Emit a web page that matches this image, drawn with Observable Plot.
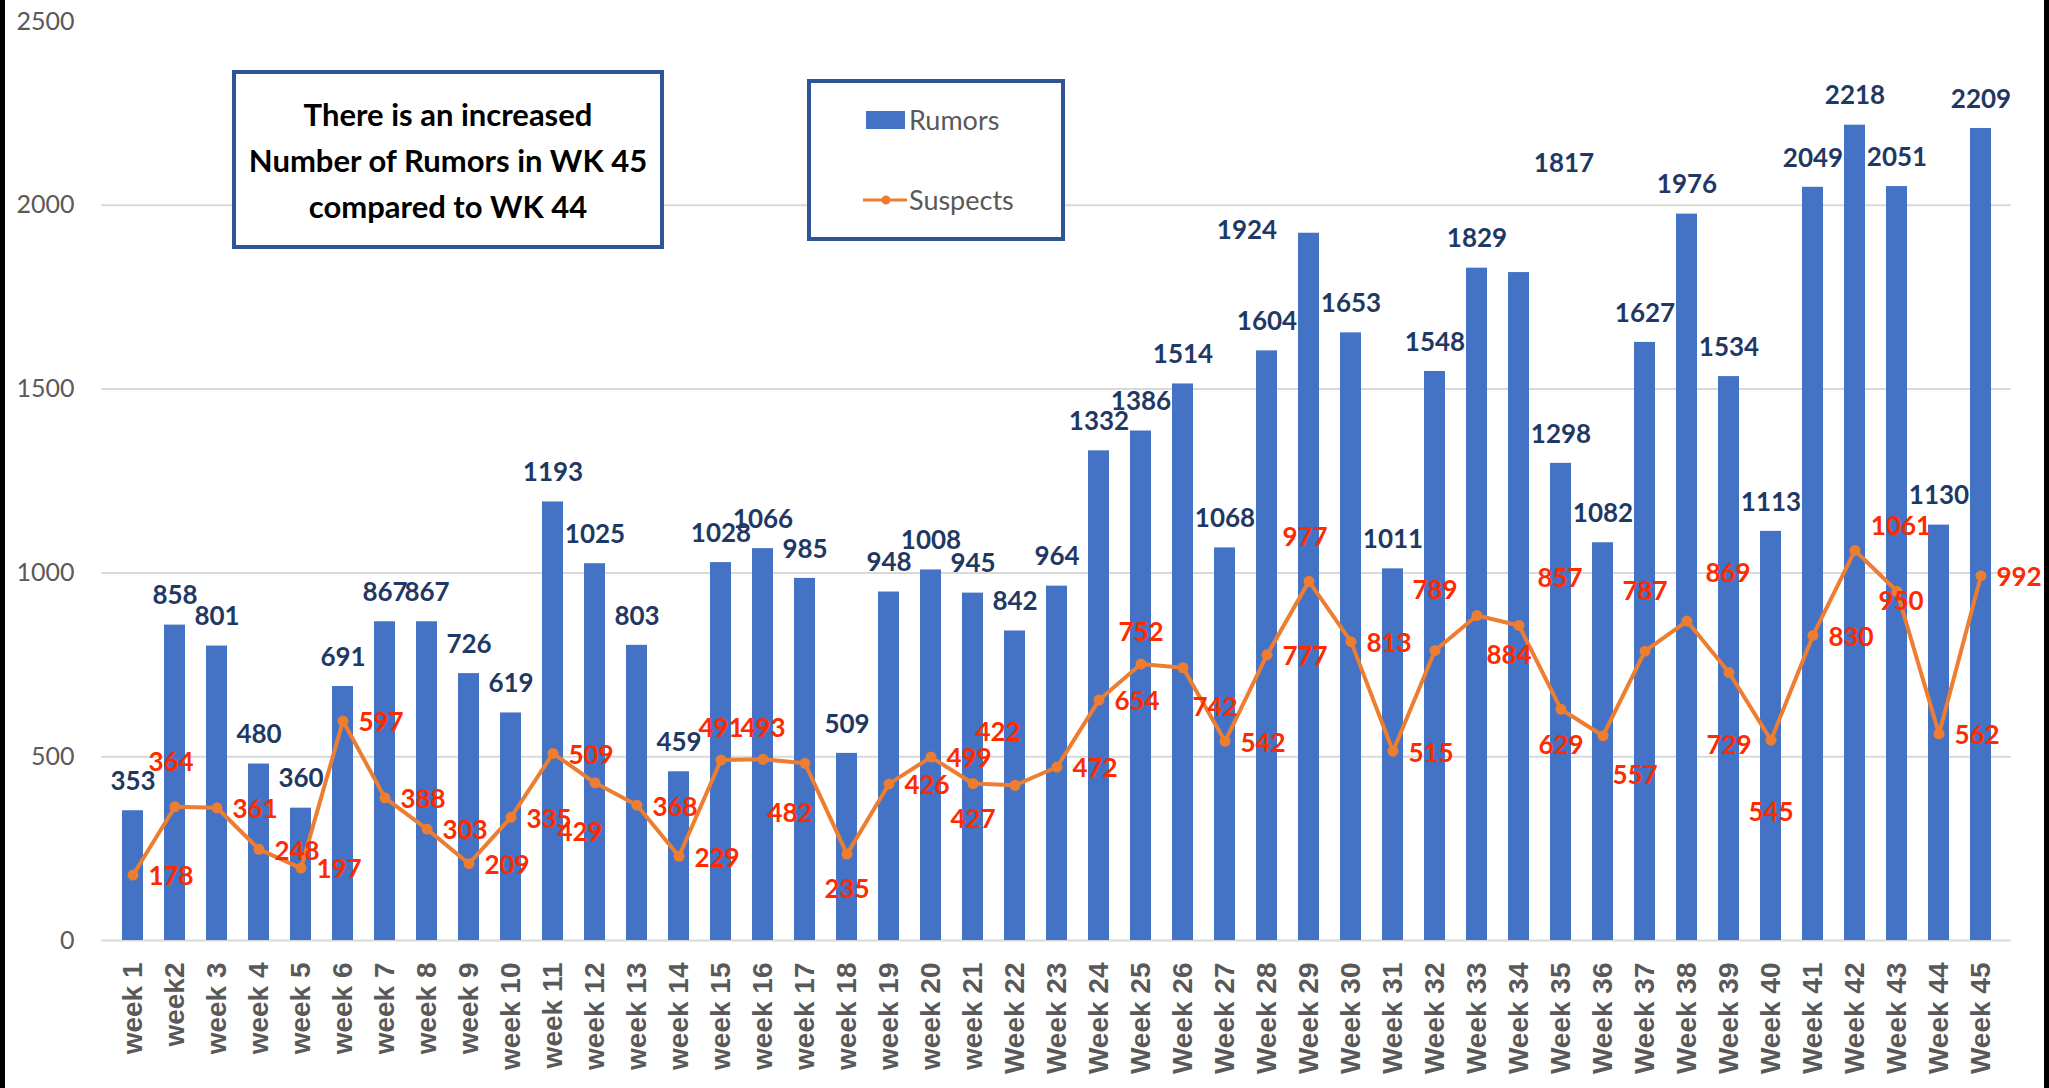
<!DOCTYPE html>
<html>
<head>
<meta charset="utf-8">
<script src="https://cdn.jsdelivr.net/npm/d3@7"></script>
<script src="https://cdn.jsdelivr.net/npm/@observablehq/plot@0.6"></script>
<style>
  html, body { margin: 0; padding: 0; background: #fff; }
  #wrap { position: relative; width: 2049px; height: 1088px; overflow: hidden; background: #fff; }
  #chart { position: absolute; left: 0; top: 0; }
  .edge { position: absolute; top: 0; width: 5px; height: 1088px; background: #000; }
  .note {
    position: absolute; left: 232px; top: 70px; width: 432px; height: 179px;
    box-sizing: border-box; border: 4px solid #2f5597; background: #fff;
    display: flex; align-items: center; justify-content: center; text-align: center;
    font-family: Lato, sans-serif; font-weight: bold; font-size: 31px; line-height: 46px; color: #000;
  }
  .legend {
    position: absolute; left: 807px; top: 79px; width: 258px; height: 162px;
    box-sizing: border-box; border: 4px solid #2f5597; background: #fff;
    font-family: Lato, sans-serif; font-size: 27px; color: #595959;
  }
  .legend .item { position: absolute; left: 0; height: 30px; display: flex; align-items: center; }
  .legend .label { position: absolute; left: 98px; white-space: nowrap; }
</style>
</head>
<body>
<div id="wrap">
  <div id="chart"></div>
  <div class="note"><div>There is an increased<br>Number of Rumors in WK 45<br>compared to WK 44</div></div>
  <div class="legend" id="legend"></div>
  <div class="edge" style="left:0"></div>
  <div class="edge" style="left:2044px"></div>
</div>
<script>
const weeks = [
  "week 1","week2","week 3","week 4","week 5","week 6","week 7","week 8","week 9","week 10",
  "week 11","week 12","week 13","week 14","week 15","week 16","week 17","week 18","week 19","week 20",
  "week 21","Week 22","Week 23","Week 24","Week 25","Week 26","Week 27","Week 28","Week 29","Week 30",
  "Week 31","Week 32","Week 33","Week 34","Week 35","Week 36","Week 37","Week 38","Week 39","Week 40",
  "Week 41","Week 42","Week 43","Week 44","Week 45"
];
const rumors = [
  353, 858, 801, 480, 360, 691, 867, 867, 726, 619,
  1193, 1025, 803, 459, 1028, 1066, 985, 509, 948, 1008,
  945, 842, 964, 1332, 1386, 1514, 1068, 1604, 1924, 1653,
  1011, 1548, 1829, 1817, 1298, 1082, 1627, 1976, 1534, 1113,
  2049, 2218, 2051, 1130, 2209
];
const suspects = [
  178, 364, 361, 248, 197, 597, 388, 303, 209, 335,
  509, 429, 368, 229, 491, 493, 482, 235, 426, 499,
  427, 422, 472, 654, 752, 742, 542, 777, 977, 813,
  515, 789, 884, 857, 629, 557, 787, 869, 729, 545,
  830, 1061, 950, 562, 992
];
const yTicks = [0, 500, 1000, 1500, 2000, 2500];
const gridValues = [0, 500, 1000, 1500, 2000];

// label placement codes (style only)
const rumorLabelPlace = [
  "n","n","n","n","n","n","n","n","n","n",
  "n","n","n","n","n","n","n","n","n","n",
  "n","n","n","n","n","n","n","n","l","n",
  "n","n","n","u","n","n","n","n","n","n",
  "n","n","n","n","n"
];
const suspectLabelPlace = [
  "r","am","r","r","r","r","r","r","r","r",
  "r","bl","r","r","a","a","bl","b","r","r",
  "b","al","r","r","a","br","r","r","am","r",
  "r","aa","br","ar","b","br","aa","ar","bb","bb",
  "r","rr","c","r","r"
];
const rumorOffsets = { n: [0, -29], l: [-62, -3], u: [45, -109] };
const suspectOffsets = {
  r: [38, 2], a: [0, -31], am: [-4, -44], aa: [0, -60], b: [0, 36], bb: [0, 73],
  bl: [-15, 50], al: [-17, -53], br: [32, 40], ar: [41, -47], rr: [46, -24], c: [4, 10]
};

const data = weeks.map((w, i) => ({
  week: w, rumors: rumors[i], suspects: suspects[i],
  rp: rumorLabelPlace[i], sp: suspectLabelPlace[i]
}));

const BLUE = "#4472c4", ORANGE = "#ed7d31", NAVY = "#1f3864", RED = "#ff2a00", GRAY = "#595959";

const rumorLabelMarks = Object.entries(rumorOffsets).map(([code, [dx, dy]]) =>
  Plot.text(data.filter(d => d.rp === code), {
    x: "week", y: "rumors", text: d => String(d.rumors), dx, dy,
    fill: NAVY, fontSize: 26, fontWeight: "bold", fontFamily: "Lato",
    textAnchor: "middle", lineAnchor: "middle"
  })
);
const suspectLabelMarks = Object.entries(suspectOffsets).map(([code, [dx, dy]]) =>
  Plot.text(data.filter(d => d.sp === code), {
    x: "week", y: "suspects", text: d => String(d.suspects), dx, dy,
    fill: RED, fontSize: 26, fontWeight: "bold", fontFamily: "Lato",
    textAnchor: "middle", lineAnchor: "middle"
  })
);

const chart = Plot.plot({
  width: 2049,
  height: 1088,
  marginLeft: 101,
  marginRight: 38,
  marginTop: 21,
  marginBottom: 148,
  style: { fontFamily: "Lato", background: "transparent", overflow: "visible" },
  x: { domain: weeks, paddingInner: 0.5, paddingOuter: 0.25, label: null },
  y: { domain: [0, 2500], label: null },
  marks: [
    Plot.ruleY(gridValues, { stroke: "#d9d9d9", strokeWidth: 2 }),
    Plot.barY(data, { x: "week", y: "rumors", fill: BLUE }),
    Plot.line(data, { x: "week", y: "suspects", stroke: ORANGE, strokeWidth: 4, curve: "linear" }),
    Plot.dot(data, { x: "week", y: "suspects", r: 5.5, fill: ORANGE, stroke: null }),
    ...rumorLabelMarks,
    ...suspectLabelMarks,
    Plot.axisY({ ticks: yTicks, tickFormat: d => String(d), tickSize: 0, tickPadding: 27, fontSize: 25,
                 fontFamily: "Lato", color: GRAY, label: null }),
    Plot.axisX({ tickRotate: -90, tickSize: 0, tickPadding: 22, fontSize: 28, fontWeight: "bold",
                 fontFamily: "Liberation Sans", color: GRAY, label: null })
  ]
});
document.getElementById("chart").appendChild(chart);

// legend
const legend = document.getElementById("legend");
legend.innerHTML = `
  <div class="item" style="top:22px;width:100%">
    <svg width="100" height="30" style="position:absolute;left:0;top:0">
      <rect x="55" y="6" width="39" height="18" fill="${BLUE}"></rect>
    </svg>
    <span class="label" style="top:-2px">Rumors</span>
  </div>
  <div class="item" style="top:102px;width:100%">
    <svg width="100" height="30" style="position:absolute;left:0;top:0">
      <line x1="52" x2="96" y1="15" y2="15" stroke="${ORANGE}" stroke-width="3"></line>
      <circle cx="75" cy="15" r="4.5" fill="${ORANGE}"></circle>
    </svg>
    <span class="label" style="top:-2px">Suspects</span>
  </div>`;
</script>
</body>
</html>
